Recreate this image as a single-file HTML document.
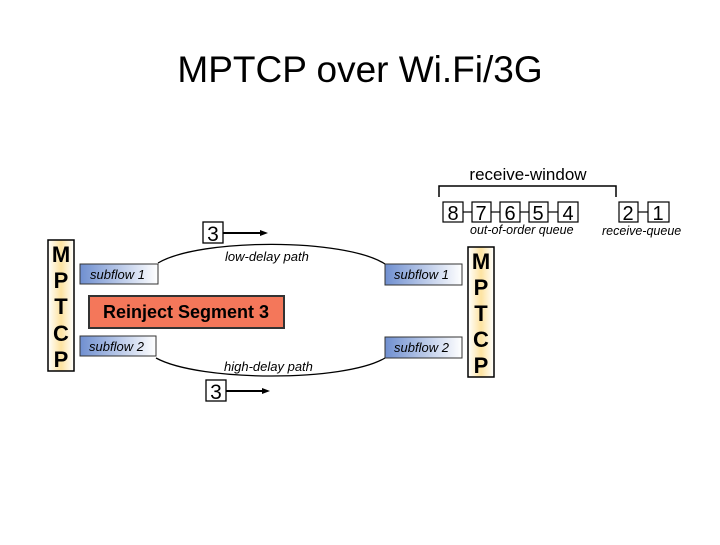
<!DOCTYPE html>
<html><head><meta charset="utf-8"><style>
body{margin:0;width:720px;height:540px;background:#fff;overflow:hidden;font-family:"Liberation Sans",sans-serif}
</style></head><body>
<svg width="720" height="540" xmlns="http://www.w3.org/2000/svg" font-family="Liberation Sans, sans-serif">
<defs>
<linearGradient id="sf" x1="0" x2="1"><stop offset="0" stop-color="#6f8fd0"/><stop offset="1" stop-color="#ffffff"/></linearGradient>
<linearGradient id="mp" x1="0" x2="1"><stop offset="0" stop-color="#fff"/><stop offset="0.5" stop-color="#fde3a0"/><stop offset="1" stop-color="#fff"/></linearGradient>
</defs>
<text x="360" y="82" font-size="37" text-anchor="middle" fill="#000">MPTCP over Wi.Fi/3G</text>
<!-- left MPTCP -->
<rect x="48" y="240" width="26" height="131" fill="url(#mp)" stroke="#000" stroke-width="1.5"/>
<g font-weight="bold" font-size="22" text-anchor="middle"><text x="61" y="262">M</text><text x="61" y="288">P</text><text x="61" y="314">T</text><text x="61" y="341">C</text><text x="61" y="367">P</text></g>
<!-- right MPTCP -->
<rect x="468" y="247" width="26" height="130" fill="url(#mp)" stroke="#000" stroke-width="1.5"/>
<g font-weight="bold" font-size="22" text-anchor="middle"><text x="481" y="269">M</text><text x="481" y="295">P</text><text x="481" y="321">T</text><text x="481" y="347">C</text><text x="481" y="373">P</text></g>
<!-- subflows -->
<g font-style="italic" font-size="13" fill="#000">
<rect x="80" y="264" width="78" height="20" fill="url(#sf)" stroke="#333"/><text x="90" y="279">subflow 1</text>
<rect x="80" y="336" width="76" height="20" fill="url(#sf)" stroke="#333"/><text x="89" y="351">subflow 2</text>
<rect x="385" y="264" width="77" height="21" fill="url(#sf)" stroke="#333"/><text x="394" y="279">subflow 1</text>
<rect x="385" y="337" width="77" height="21" fill="url(#sf)" stroke="#333"/><text x="394" y="352">subflow 2</text>
</g>
<rect x="89" y="296" width="195" height="32" fill="#f4775a" stroke="#333" stroke-width="2"/>
<text x="186" y="318" font-size="18" font-weight="bold" text-anchor="middle">Reinject Segment 3</text>
<!-- arcs -->
<path d="M158 263 C200 238 345 238 385 264" fill="none" stroke="#000" stroke-width="1.3"/>
<path d="M156 358 C200 382 345 382 385 358" fill="none" stroke="#000" stroke-width="1.3"/>
<g font-style="italic" font-size="13"><text x="225" y="261">low-delay path</text><text x="224" y="371">high-delay path</text></g>
<!-- 3 boxes -->
<rect x="203" y="222" width="20" height="21" fill="#fff" stroke="#000" stroke-width="1.3"/><text x="213" y="241" font-size="21" text-anchor="middle">3</text>
<line x1="223" y1="233" x2="262" y2="233" stroke="#000" stroke-width="2"/><path d="M268 233 L260 230 L260 236Z"/>
<rect x="206" y="380" width="20" height="21" fill="#fff" stroke="#000" stroke-width="1.3"/><text x="216" y="399" font-size="21" text-anchor="middle">3</text>
<line x1="226" y1="391" x2="264" y2="391" stroke="#000" stroke-width="2"/><path d="M270 391 L262 388 L262 394Z"/>
<!-- receive window -->
<text x="528" y="180" font-size="17" text-anchor="middle">receive-window</text>
<path d="M439 197 V186 H616 V197" fill="none" stroke="#000" stroke-width="1.5"/>
<g font-size="20" text-anchor="middle" stroke="#000" stroke-width="1.2">
<rect x="443" y="202" width="20" height="20" fill="#fff"/><rect x="472" y="202" width="19" height="20" fill="#fff"/><rect x="500" y="202" width="20" height="20" fill="#fff"/><rect x="529" y="202" width="19" height="20" fill="#fff"/><rect x="558" y="202" width="20" height="20" fill="#fff"/><rect x="619" y="202" width="19" height="20" fill="#fff"/><rect x="648" y="202" width="21" height="20" fill="#fff"/>
<line x1="463" y1="212" x2="472" y2="212"/><line x1="491" y1="212" x2="500" y2="212"/><line x1="520" y1="212" x2="529" y2="212"/><line x1="548" y1="212" x2="558" y2="212"/><line x1="638" y1="212" x2="648" y2="212"/>
</g>
<g font-size="20" text-anchor="middle">
<text x="453" y="220">8</text><text x="481" y="220">7</text><text x="510" y="220">6</text><text x="538" y="220">5</text><text x="568" y="220">4</text><text x="628" y="220">2</text><text x="658" y="220">1</text>
</g>
<g font-style="italic" font-size="12.5"><text x="470" y="234">out-of-order queue</text><text x="602" y="235">receive-queue</text></g>
</svg>
</body></html>
